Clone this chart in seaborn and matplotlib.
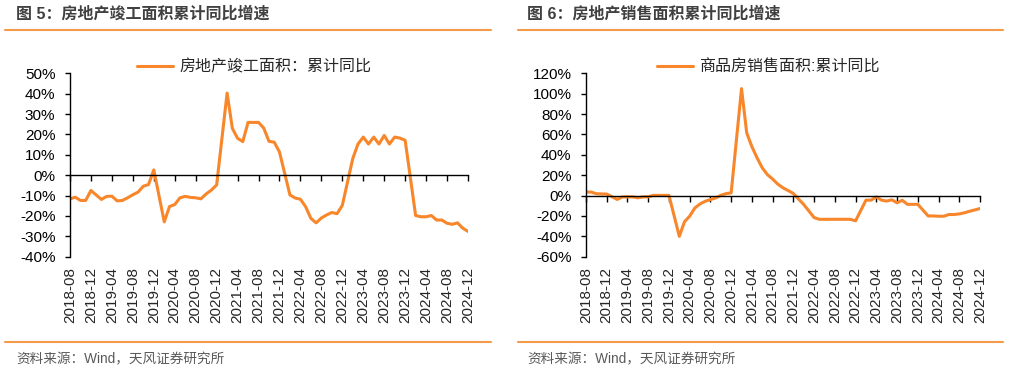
"""
Two panel chart: completed floor area and sales floor area, cumulative YoY (%).
"""

import pandas as pd
import matplotlib
matplotlib.use("Agg")
import matplotlib.pyplot as plt
from matplotlib.lines import Line2D
from matplotlib.ticker import FuncFormatter
import seaborn as sns

# ---- data (% cumulative YoY; January not published) ----
months = [
    "2018-08", "2018-09", "2018-10", "2018-11", "2018-12",
    "2019-02", "2019-03", "2019-04", "2019-05", "2019-06", "2019-07", "2019-08",
    "2019-09", "2019-10", "2019-11", "2019-12",
    "2020-02", "2020-03", "2020-04", "2020-05", "2020-06", "2020-07", "2020-08",
    "2020-09", "2020-10", "2020-11", "2020-12",
    "2021-02", "2021-03", "2021-04", "2021-05", "2021-06", "2021-07", "2021-08",
    "2021-09", "2021-10", "2021-11", "2021-12",
    "2022-02", "2022-03", "2022-04", "2022-05", "2022-06", "2022-07", "2022-08",
    "2022-09", "2022-10", "2022-11", "2022-12",
    "2023-02", "2023-03", "2023-04", "2023-05", "2023-06", "2023-07", "2023-08",
    "2023-09", "2023-10", "2023-11", "2023-12",
    "2024-02", "2024-03", "2024-04", "2024-05", "2024-06", "2024-07", "2024-08",
    "2024-09", "2024-10", "2024-11", "2024-12",
]

completed_yoy = [
    -11.6, -10.8, -12.4, -12.4, -7.5,
    -11.9, -10.4, -10.3, -12.6, -12.4, -11.1, -9.6,
    -8.3, -5.4, -4.6, 2.6,
    -22.9, -15.4, -14.4, -11.1, -10.4, -10.9, -11.1,
    -11.6, -9.2, -7.3, -4.8,
    40.3, 23.0, 18.1, 16.5, 25.9, 25.9, 25.9,
    23.1, 16.6, 16.2, 11.4,
    -9.7, -11.2, -11.8, -15.5, -21.2, -23.4, -21.0,
    -19.5, -18.3, -18.9, -14.8,
    8.2, 15.3, 18.7, 15.3, 18.7, 15.3, 19.5,
    15.3, 18.7, 18.2, 17.1,
    -19.8, -20.4, -20.4, -19.8, -22.0, -22.0, -23.6,
    -24.1, -23.4, -26.0, -27.6,
]

sales_yoy = [
    3.6, 3.4, 1.8, 1.6, 1.5,
    -3.8, -1.4, -1.3, -1.3, -2.2, -1.3, -1.2,
    0.2, 0.2, 0.2, 0.2,
    -40.0, -25.7, -20.2, -12.2, -8.2, -5.6, -3.9,
    -2.4, 0.2, 1.9, 2.6,
    105.0, 61.5, 48.0, 37.0, 27.2, 20.5, 16.2,
    11.2, 7.6, 4.9, 2.0,
    -8.8, -15.2, -21.6, -23.3, -23.3, -23.3, -23.3,
    -23.3, -23.3, -23.3, -24.8,
    -4.5, -4.5, -1.3, -4.5, -5.4, -4.2, -7.1,
    -4.6, -8.6, -8.6, -8.6,
    -20.0, -20.0, -20.3, -20.3, -18.6, -18.6, -18.0,
    -16.9, -15.4, -14.1, -12.7,
]

tick_months = [
    "2018-08", "2018-12", "2019-04", "2019-08", "2019-12", "2020-04", "2020-08",
    "2020-12", "2021-04", "2021-08", "2021-12", "2022-04", "2022-08", "2022-12",
    "2023-04", "2023-08", "2023-12", "2024-04", "2024-08", "2024-12",
]

panels = [
    {
        "title": "图 5：房地产竣工面积累计同比增速",
        "label": "房地产竣工面积：累计同比",
        "values": completed_yoy,
        "ylim": (-40, 50),
        "ystep": 10,
    },
    {
        "title": "图 6：房地产销售面积累计同比增速",
        "label": "商品房销售面积:累计同比",
        "values": sales_yoy,
        "ylim": (-60, 120),
        "ystep": 20,
    },
]

SOURCE = "资料来源：Wind，天风证券研究所"
LINE_COLOR = "#F8862A"
RULE_COLOR = "#F39A4B"
TEXT_COLOR = "#404040"

sns.set_style("white")
plt.rcParams["font.family"] = ["Liberation Sans", "Noto Sans CJK SC", "DejaVu Sans"]
plt.rcParams["axes.unicode_minus"] = False


def month_index(m: str) -> int:
    y, mo = int(m[:4]), int(m[5:7])
    return (y - 2018) * 12 + mo - 8


W, H = 1010, 372
fig = plt.figure(figsize=(W / 100, H / 100), dpi=100)

# axes boxes in pixels: (left, right)
ax_px = [(70, 468), (586, 980)]
ax_top, ax_bottom = 73.3, 256.7
title_x = [16, 527]
rule_x = [(5, 491), (518, 1003)]

for i, p in enumerate(panels):
    l, r = ax_px[i]
    ax = fig.add_axes([l / W, 1 - ax_bottom / H, (r - l) / W, (ax_bottom - ax_top) / H])

    df = pd.DataFrame({"month": months, "value": p["values"]})
    df["x"] = df["month"].map(month_index)
    sns.lineplot(data=df, x="x", y="value", color=LINE_COLOR, linewidth=2.2,
                 label=p["label"], ax=ax)

    lo, hi = p["ylim"]
    ax.set_ylim(lo, hi)
    ax.set_xlim(0, month_index("2024-12"))
    ax.set_yticks(range(lo, hi + 1, p["ystep"]))
    ax.yaxis.set_major_formatter(FuncFormatter(lambda v, _: f"{v:.0f}%"))
    ax.tick_params(axis="y", direction="out", length=3.5, width=1, labelsize=11,
                   pad=7, colors="black", left=True)
    ax.set_xlabel("")
    ax.set_ylabel("")

    for s in ["top", "right"]:
        ax.spines[s].set_visible(False)
    for s in ["left", "bottom"]:
        ax.spines[s].set_color("black")
        ax.spines[s].set_linewidth(1)
    ax.spines["bottom"].set_position(("data", 0))

    ticks = [month_index(m) for m in tick_months]
    ax.set_xticks(ticks)
    ax.tick_params(axis="x", direction="out", length=4, width=1, labelbottom=False,
                   bottom=True, colors="black")

    sec = ax.secondary_xaxis("bottom")
    sec.set_xticks(ticks, labels=tick_months)
    sec.tick_params(length=0, pad=7.5, labelsize=11, rotation=90)
    sec.spines["bottom"].set_visible(False)

    leg = ax.legend(loc="center", bbox_to_anchor=(0.462, 1.034), frameon=False,
                    fontsize=11.5, handlelength=2.3, handletextpad=0.35,
                    borderaxespad=0)

    fig.text(title_x[i] / W, 1 - 14 / H, p["title"], fontsize=11.5,
             fontweight="bold", color=TEXT_COLOR, va="center", ha="left")
    fig.text(title_x[i] / W, 1 - 359 / H, SOURCE, fontsize=9.8,
             color="#595959", va="center", ha="left")
    x0, x1 = rule_x[i]
    fig.add_artist(Line2D([x0 / W, x1 / W], [1 - 30 / H] * 2, color=RULE_COLOR, lw=1.5))
    fig.add_artist(Line2D([x0 / W, x1 / W], [1 - 342 / H] * 2, color=RULE_COLOR, lw=1.5))

fig.savefig("out.png", dpi=100)
